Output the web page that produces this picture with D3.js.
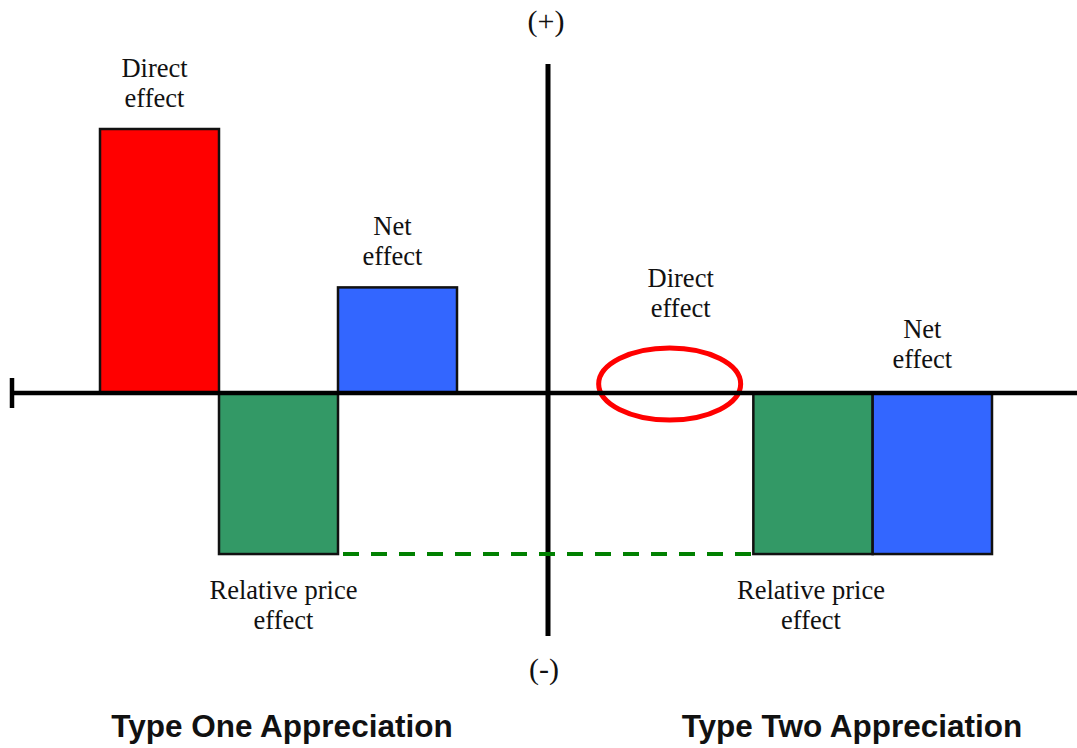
<!DOCTYPE html>
<html lang="en">
<head>
  <meta charset="UTF-8">
  <title>Appreciation effects</title>
  <style>
    body { margin: 0; background: #fff; }
    text { font-family: "Liberation Serif", "Times New Roman", serif; fill: #111; }
    .title { font-family: "Liberation Sans", Arial, sans-serif; font-weight: bold; }
  </style>
</head>
<body>
  <svg id="svg" width="1077" height="748"></svg>
  <script src="https://d3js.org/d3.v7.min.js"></script>
  <script>
    // effects (arbitrary units, + above the axis, - below)
    const effects = ['Direct', 'Relative', 'Net']
    const typeOneValues = [10, -6.1, 4]
    const typeTwoValues = [0, -6.1, -6.1]
    const effectLabels = [['Direct', 'effect'], ['Relative price', 'effect'], ['Net', 'effect']]
    const panelTitles = ['Type One Appreciation', 'Type Two Appreciation']
    const effectColors = ['#ff0000', '#339966', '#3366ff']

    const svg = d3.select('#svg')

    const y = d3.scaleLinear()
      .domain([0, 10])
      .range([393, 129])

    const x1 = d3.scaleBand().domain(effects).range([100, 457])
    const x2 = d3.scaleBand().domain(effects).range([634, 992])

    const color = d3.scaleOrdinal().domain(effects).range(effectColors)

    // vertical axis
    svg.append('line')
      .attr('x1', 548).attr('x2', 548)
      .attr('y1', 64).attr('y2', 636)
      .attr('stroke', '#000').attr('stroke-width', 5)

    svg.append('text').attr('x', 546).attr('y', 31)
      .attr('text-anchor', 'middle').style('font-size', '30px').text('(+)')
    svg.append('text').attr('x', 544).attr('y', 679)
      .attr('text-anchor', 'middle').style('font-size', '30px').text('(-)')

    const panels = [
      { x: x1, values: typeOneValues },
      { x: x2, values: typeTwoValues }
    ]

    panels.forEach((p, pi) => {
      const data = effects.map((e, i) => ({ effect: e, value: p.values[i], label: effectLabels[i] }))

      svg.append('g')
        .selectAll('rect')
        .data(data.filter(d => d.value !== 0))
        .enter()
        .append('rect')
        .attr('x', d => p.x(d.effect))
        .attr('width', p.x.bandwidth())
        .attr('y', d => y(Math.max(0, d.value)))
        .attr('height', d => Math.abs(y(d.value) - y(0)))
        .attr('fill', d => color(d.effect))
        .attr('stroke', '#111')
        .attr('stroke-width', 2.5)

      // labels above positive / zero values, below negative
      data.forEach(d => {
        let cx = p.x(d.effect) + p.x.bandwidth() / 2
        let base
        if (d.value < 0 && d.effect === 'Relative') {
          base = y(d.value) + 45
          cx += pi === 0 ? 5 : -2
        } else if (d.value < 0) {
          base = y(0) - 55
          cx -= 10
        } else if (d.value === 0) {
          base = y(0) - 106
          cx -= 13
        } else {
          base = y(d.value) - 52
          cx -= 5
        }
        const t = svg.append('text')
          .attr('text-anchor', 'middle')
          .style('font-size', '26.5px')
        d.label.forEach((line, li) => {
          t.append('tspan').attr('x', cx).attr('y', base + li * 30).text(line)
        })
      })

      svg.append('text')
        .attr('class', 'title')
        .attr('x', pi === 0 ? 282 : 852)
        .attr('y', 737)
        .attr('text-anchor', 'middle')
        .style('font-size', '31.5px')
        .text(panelTitles[pi])
    })

    // zero direct effect marker
    svg.append('ellipse')
      .attr('cx', x2('Direct') + x2.bandwidth() / 2 - 24)
      .attr('cy', 384)
      .attr('rx', 71)
      .attr('ry', 36)
      .attr('fill', 'none')
      .attr('stroke', '#ff0000')
      .attr('stroke-width', 5)

    // horizontal axis
    svg.append('line')
      .attr('x1', 12).attr('x2', 1077)
      .attr('y1', y(0)).attr('y2', y(0))
      .attr('stroke', '#000').attr('stroke-width', 4.5)
    svg.append('line')
      .attr('x1', 12).attr('x2', 12)
      .attr('y1', 378).attr('y2', 408)
      .attr('stroke', '#000').attr('stroke-width', 4.5)

    // relative price effect is the same in both
    svg.append('line')
      .attr('x1', 343).attr('x2', 751)
      .attr('y1', y(-6.1)).attr('y2', y(-6.1))
      .attr('stroke', '#008000').attr('stroke-width', 4)
      .attr('stroke-dasharray', '16 12')
  </script>
</body>
</html>
